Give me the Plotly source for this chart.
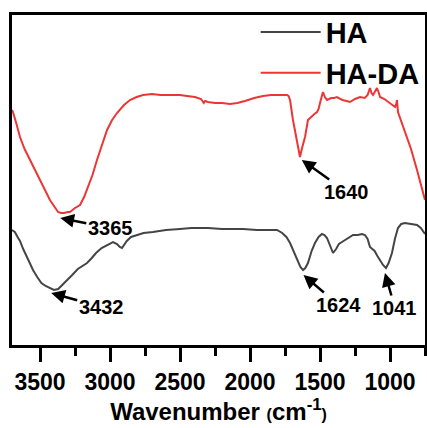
import plotly.graph_objects as go

# HA (black) spectrum: wavenumber (cm-1) and transmittance (a.u.)
ha_wn = [3700, 3680, 3660, 3643, 3620, 3600, 3575, 3550, 3520, 3490, 3460, 3430, 3400, 3370, 3340, 3307,
         3270, 3230, 3200, 3164, 3130, 3100, 3060, 3020, 2979, 2950, 2930, 2914, 2880, 2850, 2807,
         2760, 2693, 2600, 2500, 2420, 2357, 2300, 2200, 2121, 2050, 1950, 1880, 1807, 1770,
         1740, 1714, 1690, 1664, 1640, 1621, 1605, 1586, 1560, 1536, 1510, 1486, 1468, 1450,
         1430, 1407, 1385, 1365, 1343, 1310, 1290, 1264, 1230, 1200, 1179, 1160, 1143, 1110,
         1090, 1071, 1050, 1029, 1010, 986, 965, 943, 920, 893, 860, 830, 807, 780, 750]
ha_t = [115, 113, 108, 104, 96, 90, 82, 75, 68, 62, 59, 57, 55, 56, 60, 65,
        70, 76, 79, 82, 87, 92, 97, 100, 103, 101, 98, 97, 104, 108, 110,
        112, 113, 115, 116, 117, 117, 117, 116, 116, 116, 115, 115, 115, 112,
        108, 102, 94, 85, 78, 75, 77, 82, 94, 102, 108, 111, 110, 107,
        99, 92, 96, 101, 103, 106, 108, 110, 110, 111, 110, 106, 98, 94,
        89, 85, 80, 77, 82, 92, 106, 117, 121, 122, 121, 120, 120, 117, 111]

# HA-DA (red) spectrum
hada_wn = [3700, 3693, 3670, 3643, 3610, 3571, 3535, 3500, 3465, 3429, 3400, 3371, 3350, 3329, 3300,
           3286, 3250, 3214, 3185, 3157, 3125, 3093, 3060, 3021, 2985, 2950, 2900, 2857, 2810,
           2764, 2700, 2640, 2571, 2500, 2450, 2393, 2350, 2330, 2321, 2300, 2250, 2200, 2143,
           2090, 2036, 1970, 1907, 1850, 1790, 1760, 1736, 1725, 1714, 1693, 1664, 1650, 1643,
           1630, 1607, 1586, 1560, 1540, 1521, 1510, 1500, 1490, 1479, 1465, 1450, 1420, 1400,
           1379, 1340, 1310, 1286, 1250, 1214, 1180, 1160, 1143, 1132, 1121, 1105, 1093, 1082,
           1071, 1040, 1000, 980, 964, 955, 950, 943, 920, 900, 879, 850, 807, 780, 750]
hada_t = [235, 233, 222, 208, 196, 185, 175, 165, 155, 145, 139, 133, 132, 132, 133,
          133, 137, 140, 148, 158, 170, 185, 199, 215, 225, 232, 240, 245, 248,
          250, 251, 250, 250, 250, 249, 248, 246, 242, 244, 243, 242, 242, 241,
          242, 244, 247, 249, 250, 250, 250, 250, 249, 245, 225, 205, 195, 188,
          196, 208, 225, 229, 231, 233, 236, 242, 248, 253, 248, 245, 247, 247,
          248, 245, 244, 243, 246, 248, 247, 250, 257, 252, 250, 254, 257, 253,
          248, 246, 242, 240, 238, 241, 245, 233, 224, 216, 208, 196, 175, 162, 145]

ticks = [3500, 3000, 2500, 2000, 1500, 1000]

# annotations: label, wavenumber, transmittance at arrow tip, text offset (px)
ann_labels = ["3365", "3432", "1640", "1624", "1041"]
ann_x = [3355, 3420, 1630, 1618, 1036]
ann_y = [127, 52, 185, 70, 72]
ann_ax = [50, 50, 45, 35, 10]
ann_ay = [10, 14, 32, 30, 35]

FONT = "Liberation Sans, Arial, sans-serif"

fig = go.Figure()
fig.add_trace(go.Scatter(x=ha_wn, y=ha_t, mode="lines", name="<b>HA</b>",
                         line=dict(color="#454545", width=2)))
fig.add_trace(go.Scatter(x=hada_wn, y=hada_t, mode="lines", name="<b>HA-DA</b>",
                         line=dict(color="#ee3535", width=2)))

for lab, x, y, ax, ay in zip(ann_labels, ann_x, ann_y, ann_ax, ann_ay):
    fig.add_annotation(x=x, y=y, text="<b>%s</b>" % lab, showarrow=True,
                       ax=ax, ay=ay, arrowhead=2, arrowsize=1.1, arrowwidth=2.5,
                       arrowcolor="black", standoff=0,
                       font=dict(family=FONT, size=20, color="black"))

fig.update_layout(
    width=427, height=428,
    margin=dict(l=12, r=2, t=15, b=83, autoexpand=False),
    paper_bgcolor="white", plot_bgcolor="white",
    showlegend=True,
    legend=dict(x=0.59, y=1.025, xanchor="left", yanchor="top",
                bgcolor="rgba(0,0,0,0)", borderwidth=0,
                font=dict(family=FONT, size=29, color="black"),
                itemwidth=60, tracegroupgap=0),
    xaxis=dict(range=[3700, 750], tickvals=ticks,
               ticktext=["<b>%d</b>" % t for t in ticks],
               ticks="outside", ticklen=14, tickwidth=3, tickcolor="black",
               minor=dict(ticks="outside", ticklen=8, tickwidth=3, dtick=250,
                          tick0=1000, tickcolor="black"),
               showline=True, linewidth=3, linecolor="black", mirror=True,
               showgrid=False, zeroline=False,
               tickfont=dict(family=FONT, size=23, color="black"),
               title=dict(text="<b>Wavenumber <span style='font-size:16px'>(</span>cm<sup>-1</sup><span style='font-size:16px'>)</span></b>",
                          font=dict(family=FONT, size=24, color="black"),
                          standoff=0)),
    yaxis=dict(range=[0, 330], showticklabels=False, ticks="",
               showline=True, linewidth=3, linecolor="black", mirror=True,
               showgrid=False, zeroline=False),
)

fig.write_html("out.html")
